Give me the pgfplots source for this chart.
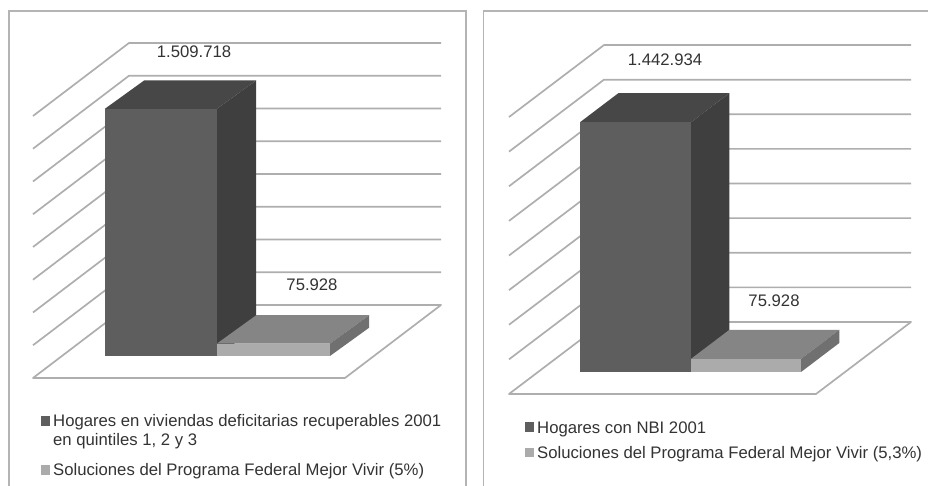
\documentclass[border=0pt]{standalone}
\usepackage{pgfplots}
\pgfplotsset{compat=1.18}
\usepackage{fontspec}
\setmainfont{Liberation Sans}
\definecolor{bigF}{HTML}{5E5E5E}
\definecolor{bigT}{HTML}{474747}
\definecolor{bigS}{HTML}{3F3F3F}
\definecolor{smF}{HTML}{ABABAB}
\definecolor{smT}{HTML}{858585}
\definecolor{smS}{HTML}{707070}
\definecolor{wall}{HTML}{AEAEAE}
\definecolor{frm}{HTML}{B4B4B4}
\definecolor{txt}{HTML}{333333}
\pgfplotsset{
  panel/.style={hide axis, clip=false, anchor=origin, ymin=0, ymax=1, zmin=0, zmax=1600, xmin=0},
  g/.style={wall, line width=1.7pt, line join=round, no marks, forget plot},
  face/.style={fill=#1, draw=none, no marks, forget plot},
}
\tikzset{
  lab/.style={font=\fontsize{16.7}{19}\selectfont, text=txt, inner sep=0pt},
  leg/.style={font=\fontsize{16.7}{19}\selectfont, text=txt, inner sep=0pt, anchor=base west},
}
\begin{document}
\begin{tikzpicture}
\path[use as bounding box] (0pt,0pt) rectangle (928pt,486pt);
% frames
\draw[frm, line width=1.4pt] (9pt,0pt) -- (9pt,475pt) -- (466pt,475pt) -- (466pt,0pt);
\draw[frm, line width=1.4pt] (483.5pt,0pt) -- (483.5pt,475pt) -- (928pt,475pt);
% LEFT
\begin{axis}[panel, at={(33pt,108pt)}, x={(1pt,0pt)}, y={(96pt,73pt)}, z={(0pt,0.16375pt)}, xmax=312]
\addplot3[g] coordinates {(0,0,1600)(0,1,1600)(312,1,1600)};
\addplot3[g] coordinates {(0,0,1400)(0,1,1400)(312,1,1400)};
\addplot3[g] coordinates {(0,0,1200)(0,1,1200)(312,1,1200)};
\addplot3[g] coordinates {(0,0,1000)(0,1,1000)(312,1,1000)};
\addplot3[g] coordinates {(0,0,800)(0,1,800)(312,1,800)};
\addplot3[g] coordinates {(0,0,600)(0,1,600)(312,1,600)};
\addplot3[g] coordinates {(0,0,400)(0,1,400)(312,1,400)};
\addplot3[g] coordinates {(0,0,200)(0,1,200)(312,1,200)};
\addplot3[g, fill=white] coordinates {(0,1,0)(312,1,0)(312,0,0)(0,0,0)(0,1,0)};
\addplot3[wall, line width=2.4pt, no marks, forget plot] coordinates {(0,0,0)(312,0,0)};
% big bar
\addplot3[face=bigT] coordinates {(43,0.3,1509.718)(155,0.3,1509.718)(157,0.69,1509.718)(45,0.69,1509.718)};
\addplot3[face=bigS] coordinates {(155,0.3,0)(157,0.69,0)(157,0.69,1509.718)(155,0.3,1509.718)};
\addplot3[face=bigF] coordinates {(43,0.3,0)(155,0.3,0)(155,0.3,1509.718)(43,0.3,1509.718)};
% small bar
\addplot3[face=smT] coordinates {(155,0.3,75.928)(268,0.3,75.928)(270,0.69,75.928)(157,0.69,75.928)};
\addplot3[face=smS] coordinates {(268,0.3,0)(270,0.69,0)(270,0.69,75.928)(268,0.3,75.928)};
\addplot3[face=smF] coordinates {(155,0.3,0)(268,0.3,0)(268,0.3,75.928)(155,0.3,75.928)};
\end{axis}
% RIGHT
\begin{axis}[panel, at={(509pt,92pt)}, x={(1pt,0pt)}, y={(95pt,72pt)}, z={(0pt,0.1731pt)}, xmax=307]
\addplot3[g] coordinates {(0,0,1600)(0,1,1600)(307,1,1600)};
\addplot3[g] coordinates {(0,0,1400)(0,1,1400)(307,1,1400)};
\addplot3[g] coordinates {(0,0,1200)(0,1,1200)(307,1,1200)};
\addplot3[g] coordinates {(0,0,1000)(0,1,1000)(307,1,1000)};
\addplot3[g] coordinates {(0,0,800)(0,1,800)(307,1,800)};
\addplot3[g] coordinates {(0,0,600)(0,1,600)(307,1,600)};
\addplot3[g] coordinates {(0,0,400)(0,1,400)(307,1,400)};
\addplot3[g] coordinates {(0,0,200)(0,1,200)(307,1,200)};
\addplot3[g, fill=white] coordinates {(0,1,0)(307,1,0)(307,0,0)(0,0,0)(0,1,0)};
\addplot3[wall, line width=2pt, no marks, forget plot] coordinates {(0,0,0)(307,0,0)};
% big bar
\addplot3[face=bigT] coordinates {(42,0.306,1442.934)(153,0.306,1442.934)(153,0.708,1442.934)(42,0.708,1442.934)};
\addplot3[face=bigS] coordinates {(153,0.306,0)(153,0.708,0)(153,0.708,1442.934)(153,0.306,1442.934)};
\addplot3[face=bigF] coordinates {(42,0.306,0)(153,0.306,0)(153,0.306,1442.934)(42,0.306,1442.934)};
% small bar
\addplot3[face=smT] coordinates {(153,0.306,75.928)(263,0.306,75.928)(263,0.708,75.928)(153,0.708,75.928)};
\addplot3[face=smS] coordinates {(263,0.306,0)(263,0.708,0)(263,0.708,75.928)(263,0.306,75.928)};
\addplot3[face=smF] coordinates {(153,0.306,0)(263,0.306,0)(263,0.306,75.928)(153,0.306,75.928)};
\end{axis}
% value labels
\node[lab] at (194pt,434.5pt) {1.509.718};
\node[lab] at (312pt,201pt) {75.928};
\node[lab] at (665pt,426pt) {1.442.934};
\node[lab] at (774pt,185pt) {75.928};
% legends
\fill[bigF] (40.5pt,60pt) rectangle (50pt,69.5pt);
\node[leg] at (53pt,59pt) {Hogares en viviendas deficitarias recuperables 2001};
\node[leg] at (53pt,40pt) {en quintiles 1, 2 y 3};
\fill[smF] (40.5pt,11pt) rectangle (50pt,20.5pt);
\node[leg] at (53pt,10.3pt) {Soluciones del Programa Federal Mejor Vivir (5\%)};
\fill[bigF] (524.5pt,54pt) rectangle (534pt,63.5pt);
\node[leg] at (537pt,52.3pt) {Hogares con NBI 2001};
\fill[smF] (524.5pt,28.5pt) rectangle (534pt,38pt);
\node[leg] at (537pt,27pt) {Soluciones del Programa Federal Mejor Vivir (5,3\%)};
\end{tikzpicture}
\end{document}
